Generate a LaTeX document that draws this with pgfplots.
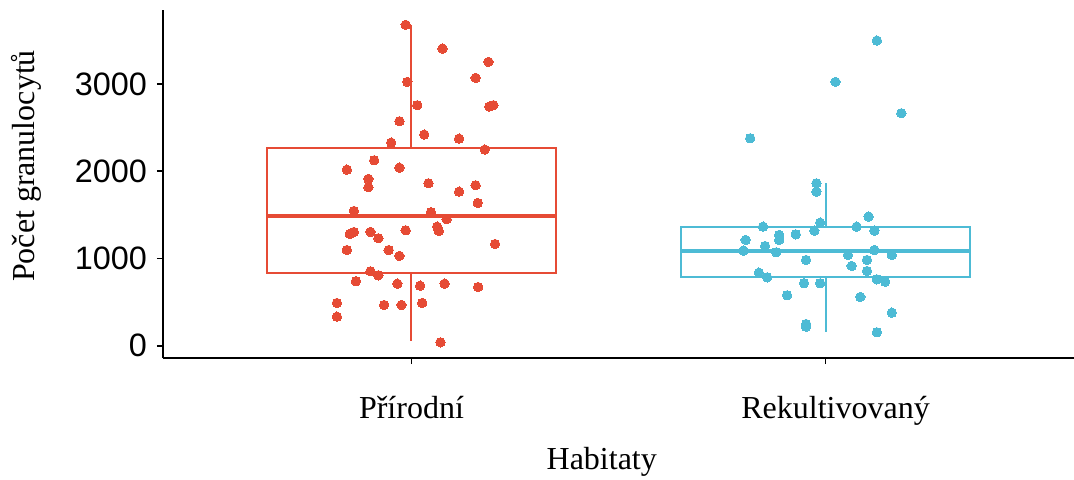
\documentclass[border=0pt]{standalone}
\usepackage{fontspec}
\setmainfont{Liberation Serif}
\newfontfamily\sansnum{Liberation Sans}
\usepackage{pgfplots}
\pgfplotsset{compat=1.18}
\usepackage{pgfplotstable}
\definecolor{npgred}{HTML}{E64B35}
\definecolor{npgblue}{HTML}{4DBBD5}

\pgfplotstableread{
x y
0.986 3678
1.075 3406
1.186 3253
1.155 3070
0.990 3024
1.014 2757
1.188 2741
1.198 2757
0.971 2573
1.031 2420
1.115 2374
0.951 2328
1.177 2248
0.910 2126
0.844 2018
0.971 2041
0.896 1912
0.896 1816
1.041 1862
1.115 1766
1.155 1839
1.160 1636
0.861 1545
1.047 1530
1.085 1450
0.851 1281
0.861 1304
0.901 1304
0.920 1232
0.986 1323
1.062 1365
1.066 1315
1.202 1166
0.844 1097
0.945 1097
0.971 1029
0.901 853
0.920 807
0.866 739
0.966 711
1.021 688
1.080 711
1.161 673
0.820 490
0.820 333
0.934 467
0.976 467
1.026 490
1.070 39
}\prirodni

\pgfplotstableread{
x y
2.124 3498
2.024 3024
2.183 2665
1.818 2378
1.978 1862
1.978 1766
1.987 1411
1.973 1319
2.104 1480
2.075 1365
2.118 1319
1.849 1365
1.888 1270
1.888 1212
1.928 1277
1.807 1212
1.854 1143
1.802 1090
1.881 1071
1.953 983
2.054 1040
2.118 1097
2.160 1040
2.100 983
2.063 914
2.100 857
1.839 837
1.859 784
2.124 761
2.144 734
1.948 716
1.987 716
1.907 578
2.084 559
2.160 379
1.953 249
1.953 218
2.124 154
}\rekult

\begin{document}
\begin{tikzpicture}
\useasboundingbox (-81.5pt,-60.5pt) rectangle (455.5pt,179pt);
\begin{axis}[
  at={(0,0)}, anchor=south west,
  scale only axis,
  width=455.5pt, height=174pt,
  xmin=0.4, xmax=2.6,
  ymin=-141, ymax=3848,
  axis lines=left,
  axis line style={-, line width=0.9pt, black},
  tick style={line width=0.9pt, black},
  tick align=outside,
  major tick length=3pt,
  xtick={1,2},
  xticklabels={Přírodní, \hspace*{10pt}Rekultivovaný},
  ytick={0,1000,2000,3000},
  scaled y ticks=false,
  /pgf/number format/assume math mode=true,
  /pgf/number format/1000 sep={},
  yticklabel style={font=\sansnum\fontsize{16.2}{18}\selectfont, xshift=-1.5pt},
  xticklabel style={font=\fontsize{16}{18}\selectfont, anchor=base, yshift=-27.35pt},
  xlabel={Habitaty},
  ylabel={Počet granulocytů},
  xlabel style={font=\fontsize{16}{18}\selectfont, at={(axis description cs:0.4816,-0.3198)}, anchor=base},
  ylabel style={font=\fontsize{16}{18}\selectfont, at={(axis description cs:-0.1405,0.5517)}, anchor=base},
  clip=false,
]
% Přírodní box
\addplot[npgred, line width=1pt, line join=miter] coordinates {(0.65,830) (1.35,830) (1.35,2263) (0.65,2263) (0.65,830)} -- cycle;
\addplot[npgred, line width=1pt] coordinates {(1,2263) (1,3678)};
\addplot[npgred, line width=1pt] coordinates {(1,830) (1,57)};
\addplot[npgred, line width=2pt] coordinates {(0.65,1490) (1.35,1490)};
% Rekultivovaný box
\addplot[npgblue, line width=1pt, line join=miter] coordinates {(1.65,784) (2.35,784) (2.35,1361) (1.65,1361) (1.65,784)} -- cycle;
\addplot[npgblue, line width=1pt] coordinates {(2,1361) (2,1862)};
\addplot[npgblue, line width=1pt] coordinates {(2,784) (2,160)};
\addplot[npgblue, line width=2pt] coordinates {(1.65,1086) (2.35,1086)};
% points
\addplot[only marks, mark=*, mark size=2.35pt, mark options={draw=npgred, fill=npgred, line width=0pt}] table[x=x, y=y] {\prirodni};
\addplot[only marks, mark=*, mark size=2.35pt, mark options={draw=npgblue, fill=npgblue, line width=0pt}] table[x=x, y=y] {\rekult};
\end{axis}
\end{tikzpicture}
\end{document}
